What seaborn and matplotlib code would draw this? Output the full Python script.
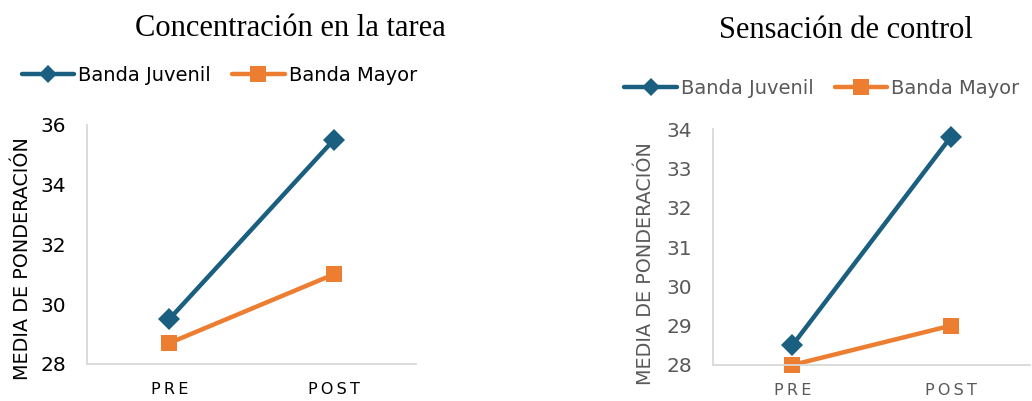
import pandas as pd
import seaborn as sns
import matplotlib.pyplot as plt
from matplotlib.lines import Line2D

# Data
momentos = ['PRE', 'POST']
grupos = ['Banda Juvenil', 'Banda Mayor']
concentracion_juvenil = [29.5, 35.5]
concentracion_mayor = [28.7, 31.0]
control_juvenil = [28.5, 33.8]
control_mayor = [28.0, 29.0]

titulos = ['Concentración en la tarea', 'Sensación de control']
ylabel = 'MEDIA DE PONDERACIÓN'

colores = {'Banda Juvenil': '#1A5E80', 'Banda Mayor': '#ED7D31'}
marcadores = {'Banda Juvenil': 'D', 'Banda Mayor': 's'}


def to_long(juvenil, mayor):
    rows = []
    for m, v in zip(momentos, juvenil):
        rows.append({'momento': m, 'valor': v, 'grupo': 'Banda Juvenil'})
    for m, v in zip(momentos, mayor):
        rows.append({'momento': m, 'valor': v, 'grupo': 'Banda Mayor'})
    return pd.DataFrame(rows)


sns.set_style('white')
plt.rcParams['font.family'] = ['DejaVu Sans']

fig = plt.figure(figsize=(10.32, 4.01), dpi=100)

# --- panel settings: axes rect, y limits, text colour ---
paneles = [
    dict(df=to_long(concentracion_juvenil, concentracion_mayor),
         rect=[0.0843, 0.0923, 0.3188, 0.596], ylim=(28, 36), yticks=[28, 30, 32, 34, 36],
         txt='#000000', title_x=0.281, title_y=0.93, leg_y=0.812, leg_x=0.021,
         ylab_xy=(-0.167, 0.44)),
    dict(df=to_long(control_juvenil, control_mayor),
         rect=[0.691, 0.0898, 0.307, 0.588], ylim=(28, 34), yticks=[28, 29, 30, 31, 32, 33, 34],
         txt='#595959', title_x=0.82, title_y=0.925, leg_y=0.78, leg_x=0.605,
         ylab_xy=(-0.184, 0.43)),
]

for p, titulo in zip(paneles, titulos):
    ax = fig.add_axes(p['rect'])
    sns.lineplot(data=p['df'], x='momento', y='valor', hue='grupo', style='grupo',
                 palette=colores, markers=marcadores, dashes=False, sort=False,
                 linewidth=3.2, markersize=11, markeredgewidth=0, ax=ax, legend=False)
    # square markers a touch larger than the diamonds, no clipping at the axis edge
    for line in ax.get_lines():
        line.set_clip_on(False)
        if line.get_marker() == 's':
            line.set_markersize(12)
    ax.set_xlim(-0.5, 1.5)
    ax.set_ylim(*p['ylim'])
    ax.set_yticks(p['yticks'])
    ax.set_xticks([0, 1])
    ax.set_xticklabels(['\u2009'.join(m) for m in momentos], fontsize=11.5, color=p['txt'])
    ax.tick_params(axis='y', labelsize=14.5, colors=p['txt'], length=0, pad=15)
    ax.tick_params(axis='x', length=0, pad=13)
    ax.set_xlabel('')
    ax.set_ylabel(ylabel, fontsize=13.8, color=p['txt'])
    ax.yaxis.set_label_coords(*p['ylab_xy'])
    for s in ['top', 'right']:
        ax.spines[s].set_visible(False)
    for s in ['left', 'bottom']:
        ax.spines[s].set_color('#D9D9D9')
        ax.spines[s].set_linewidth(1.3)

    fig.text(p['title_x'], p['title_y'], titulo, ha='center', va='center',
             fontsize=22, family=['Liberation Serif', 'DejaVu Serif'], color='#000000')

    handles = [Line2D([], [], color=colores[g], marker=marcadores[g], lw=3.2,
                      markersize=9 if marcadores[g] == 'D' else 11, markeredgewidth=0)
               for g in grupos]
    leg = fig.legend(handles, grupos, loc='center left', bbox_to_anchor=(p['leg_x'], p['leg_y']),
                     ncol=2, frameon=False, fontsize=14, handlelength=2.7,
                     handletextpad=0.2, columnspacing=1.1, borderaxespad=0, borderpad=0)
    for t in leg.get_texts():
        t.set_color(p['txt'])

fig.savefig('out.png', dpi=100)
